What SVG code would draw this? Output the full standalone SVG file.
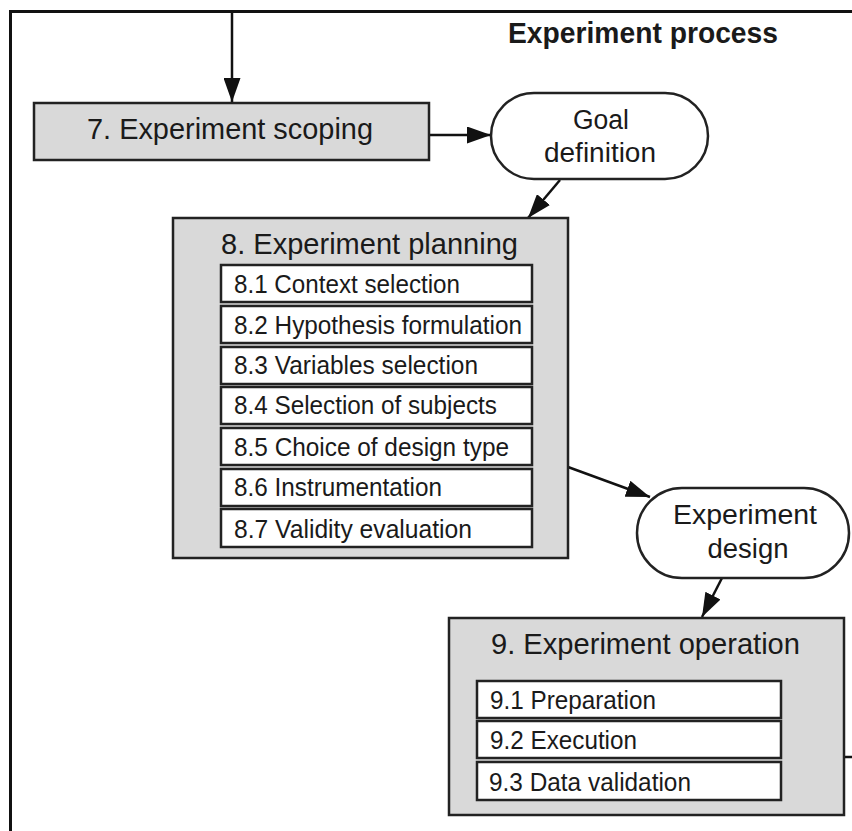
<svg xmlns="http://www.w3.org/2000/svg" width="852" height="831" viewBox="0 0 852 831">
  <style>
    text { font-family: "Liberation Sans", Arial, Helvetica, sans-serif; fill: #1a1a1a; }
    .frame { fill: none; stroke: #111; stroke-width: 3; }
    .phase { fill: #d9d9d9; stroke: #222; stroke-width: 2.5; }
    .step { fill: #fff; stroke: #222; stroke-width: 2.5; }
    .term { fill: #fff; stroke: #222; stroke-width: 2.5; }
    .conn { fill: none; stroke: #111; stroke-width: 2.5; marker-end: url(#arrow); }
    .stub { fill: none; stroke: #111; stroke-width: 2.5; }
    .title { font-size: 29px; font-weight: bold; }
    .phase-label { font-size: 29px; }
    .step-label { font-size: 26px; }
    .term-label { font-size: 27px; text-anchor: middle; }
  </style>
  <defs>
    <marker id="arrow" markerUnits="userSpaceOnUse" markerWidth="24" markerHeight="17" refX="24" refY="8.5" orient="auto">
      <path d="M0,0 L24,8.5 L0,17 Z" fill="#111"/>
    </marker>
  </defs>

  <!-- outer frame (top and left edges) -->
  <path class="frame" d="M10.5,831 V11.5 H852"/>
  <text class="title" x="508" y="43" textLength="270" lengthAdjust="spacingAndGlyphs">Experiment process</text>

  <g id="connectors">
    <line class="conn" x1="232" y1="12" x2="232" y2="102"/>
    <line class="conn" x1="429" y1="135" x2="491" y2="135"/>
    <line class="conn" x1="560" y1="180" x2="528" y2="218"/>
    <line class="conn" x1="568" y1="467" x2="650" y2="497"/>
    <line class="conn" x1="722" y1="578" x2="702" y2="617"/>
    <line class="stub" x1="845" y1="757" x2="852" y2="757"/>
  </g>

  <g id="scoping">
    <rect class="phase" x="34" y="103" width="395" height="57"/>
    <text class="phase-label" x="87" y="139" textLength="286" lengthAdjust="spacingAndGlyphs">7. Experiment scoping</text>
  </g>

  <g id="goal-definition">
    <rect class="term" x="491" y="93" width="217" height="86" rx="43" ry="43"/>
    <text class="term-label" x="601" y="129" textLength="56" lengthAdjust="spacingAndGlyphs">Goal</text>
    <text class="term-label" x="600" y="162" textLength="112" lengthAdjust="spacingAndGlyphs">definition</text>
  </g>

  <g id="planning">
    <rect class="phase" x="173" y="218" width="395" height="340"/>
    <text class="phase-label" x="221" y="254" textLength="297" lengthAdjust="spacingAndGlyphs">8. Experiment planning</text>
    <g id="planning-steps">
      <rect class="step" x="221" y="265" width="311" height="37"/>
      <text class="step-label" x="234" y="293" textLength="226" lengthAdjust="spacingAndGlyphs">8.1 Context selection</text>
      <rect class="step" x="221" y="306" width="311" height="37"/>
      <text class="step-label" x="234" y="334" textLength="288" lengthAdjust="spacingAndGlyphs">8.2 Hypothesis formulation</text>
      <rect class="step" x="221" y="347" width="311" height="37"/>
      <text class="step-label" x="234" y="374" textLength="244" lengthAdjust="spacingAndGlyphs">8.3 Variables selection</text>
      <rect class="step" x="221" y="387" width="311" height="37"/>
      <text class="step-label" x="234" y="414" textLength="263" lengthAdjust="spacingAndGlyphs">8.4 Selection of subjects</text>
      <rect class="step" x="221" y="428" width="311" height="37"/>
      <text class="step-label" x="234" y="456" textLength="275" lengthAdjust="spacingAndGlyphs">8.5 Choice of design type</text>
      <rect class="step" x="221" y="469" width="311" height="37"/>
      <text class="step-label" x="234" y="496" textLength="208" lengthAdjust="spacingAndGlyphs">8.6 Instrumentation</text>
      <rect class="step" x="221" y="509" width="311" height="38"/>
      <text class="step-label" x="234" y="538" textLength="238" lengthAdjust="spacingAndGlyphs">8.7 Validity evaluation</text>
    </g>
  </g>

  <g id="experiment-design">
    <rect class="term" x="637" y="488" width="212" height="90" rx="45" ry="45"/>
    <text class="term-label" x="745" y="524" textLength="144" lengthAdjust="spacingAndGlyphs">Experiment</text>
    <text class="term-label" x="748" y="558" textLength="81" lengthAdjust="spacingAndGlyphs">design</text>
  </g>

  <g id="operation">
    <rect class="phase" x="449" y="618" width="395" height="197"/>
    <text class="phase-label" x="491" y="654" textLength="309" lengthAdjust="spacingAndGlyphs">9. Experiment operation</text>
    <g id="operation-steps">
      <rect class="step" x="477" y="681" width="304" height="37"/>
      <text class="step-label" x="490" y="709" textLength="166" lengthAdjust="spacingAndGlyphs">9.1 Preparation</text>
      <rect class="step" x="477" y="721" width="304" height="37"/>
      <text class="step-label" x="490" y="749" textLength="147" lengthAdjust="spacingAndGlyphs">9.2 Execution</text>
      <rect class="step" x="477" y="762" width="304" height="38"/>
      <text class="step-label" x="489" y="791" textLength="202" lengthAdjust="spacingAndGlyphs">9.3 Data validation</text>
    </g>
  </g>
</svg>
